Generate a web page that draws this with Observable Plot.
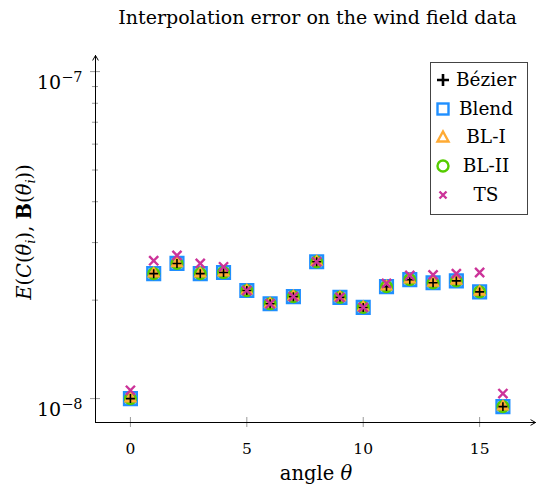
<!DOCTYPE html>
<html><head><meta charset="utf-8">
<script src="https://cdn.jsdelivr.net/npm/d3@7"></script>
<script src="https://cdn.jsdelivr.net/npm/@observablehq/plot@0.6"></script>
<style>
body{margin:0;background:#fff;}
#wrap{position:relative;width:540px;height:486px;font-family:"DejaVu Serif",serif;color:#000;}
#title{position:absolute;left:95px;width:445px;top:5px;text-align:center;font-size:19px;line-height:24px;white-space:nowrap;}
#legend{position:absolute;left:430px;top:62px;width:98px;height:153px;border:1px solid #444;background:#fff;box-sizing:border-box;font-size:18.5px;}
.row{position:absolute;left:0;width:96px;height:28px;}
.row svg{position:absolute;left:3px;top:3px;}
.row span{position:absolute;left:55px;top:0px;line-height:24px;transform:translateX(-50%);white-space:nowrap;}
</style></head><body>
<div id="wrap"><div id="chart"></div><div id="title">Interpolation error on the wind field data</div><div id="legend"></div></div>
<script>
const angles = [0,1,2,3,4,5,6,7,8,9,10,11,12,13,14,15,16];
const bezier = [1.00e-8,2.41e-8,2.59e-8,2.41e-8,2.43e-8,2.14e-8,1.95e-8,2.05e-8,2.62e-8,2.04e-8,1.90e-8,2.20e-8,2.31e-8,2.26e-8,2.29e-8,2.12e-8,0.945e-8];
const blend  = [1.00e-8,2.41e-8,2.59e-8,2.41e-8,2.43e-8,2.14e-8,1.95e-8,2.05e-8,2.62e-8,2.04e-8,1.90e-8,2.20e-8,2.31e-8,2.26e-8,2.29e-8,2.12e-8,0.945e-8];
const bl1    = [1.00e-8,2.41e-8,2.59e-8,2.41e-8,2.43e-8,2.14e-8,1.95e-8,2.05e-8,2.62e-8,2.04e-8,1.90e-8,2.20e-8,2.31e-8,2.26e-8,2.29e-8,2.12e-8,0.945e-8];
const bl2    = [1.00e-8,2.41e-8,2.59e-8,2.41e-8,2.43e-8,2.14e-8,1.95e-8,2.05e-8,2.62e-8,2.04e-8,1.90e-8,2.20e-8,2.31e-8,2.26e-8,2.29e-8,2.12e-8,0.945e-8];
const ts     = [1.06e-8,2.64e-8,2.74e-8,2.59e-8,2.53e-8,2.14e-8,1.95e-8,2.05e-8,2.62e-8,2.04e-8,1.90e-8,2.25e-8,2.38e-8,2.39e-8,2.41e-8,2.43e-8,1.036e-8];
const seriesNames = ["Bézier","Blend","BL-I","BL-II","TS"];
const colors = {"Bézier":"#000000","Blend":"#1f8fff","BL-I":"#ffaa33","BL-II":"#55cc00","TS":"#cc3399"};
const xTicks = [0,5,10,15];
const yMajor = [1e-8,1e-7];
const yMinor = [2e-8,3e-8,4e-8,5e-8,6e-8,7e-8,8e-8,9e-8];
const xDomain = [-1.5,17.4];
const yDomain = [0.845e-8,1.12e-7];

const rows = (vals) => angles.map((a,i)=>({x:a,y:vals[i]}));
const xMin = xDomain[0];
const yMin = yDomain[0];
const majHalf = 0.215, minHalf = 0.13;
const yTickF = Math.pow(10, 5/327);

const plot = Plot.plot({
  width:540, height:486,
  marginLeft:95, marginRight:5, marginTop:55, marginBottom:64,
  x:{domain:xDomain},
  y:{type:"log", domain:yDomain},
  style:{fontFamily:"DejaVu Serif, serif", fontSize:"15px", background:"transparent", overflow:"visible"},
  marks:[
    Plot.ruleY(yMajor,{y:d=>d, x1:()=>xMin-majHalf, x2:()=>xMin+majHalf, stroke:"#999", clip:false}),
    Plot.ruleY(yMinor,{y:d=>d, x1:()=>xMin-minHalf, x2:()=>xMin+minHalf, stroke:"#999", clip:false}),
    Plot.ruleX(xTicks,{x:d=>d, y1:()=>yMin/yTickF, y2:()=>yMin*yTickF, stroke:"#999", clip:false}),
    Plot.axisY({ticks:yMajor, tickSize:0, tickPadding:13, label:null, fontSize:19, tickFormat:d=>String(Math.round(Math.log10(d)))}),
    Plot.axisX({ticks:xTicks, tickSize:0, tickPadding:20, label:null, fontSize:15.5}),
    Plot.arrow([{}],{x1:()=>xDomain[0], x2:()=>xDomain[1], y1:()=>yMin, y2:()=>yMin, stroke:"black", strokeWidth:1, headLength:8, insetEnd:0, insetStart:0}),
    Plot.arrow([{}],{x1:()=>xDomain[0], x2:()=>xDomain[0], y1:()=>yMin, y2:()=>yDomain[1], stroke:"black", strokeWidth:1, headLength:8, insetEnd:0, insetStart:0}),
    Plot.dot(rows(blend),{x:"x", y:"y", symbol:"square", r:7.3, stroke:colors["Blend"], strokeWidth:2.2, fill:colors["Blend"], fillOpacity:0.55}),
    Plot.dot(rows(bl2),{x:"x", y:"y", symbol:"circle", r:5.2, stroke:colors["BL-II"], strokeWidth:2.8, fill:"none"}),
    Plot.dot(rows(bl1),{x:"x", y:"y", symbol:"triangle", r:3.1, stroke:colors["BL-I"], strokeWidth:3, fill:colors["BL-I"]}),
    Plot.dot(rows(bezier),{x:"x", y:"y", symbol:"plus", r:3.0, stroke:colors["Bézier"], strokeWidth:1.6}),
    Plot.dot(rows(ts),{x:"x", y:"y", symbol:"times", r:4.2, stroke:colors["TS"], strokeWidth:2.4})
  ]
});
document.getElementById("chart").appendChild(plot);

// y tick labels as 10^exp
const svg = d3.select(plot);
svg.selectAll('g[aria-label="y-axis tick label"] text').each(function(){
  const t = d3.select(this); const e = t.text().replace("-","−");
  t.text(null);
  t.append("tspan").text("10");
  t.append("tspan").attr("dy","-0.5em").attr("font-size","14.5").text(e);
  t.attr("dy","0.6em");
});
// y label
const yl = svg.append("text").attr("transform","translate(31,232) rotate(-90)").attr("text-anchor","middle")
  .attr("font-family","DejaVu Serif, serif").attr("font-size","19.5");
const parts = [["E","i"],["(",""],["C","i"],["(",""],["θ","i"],["i","sub"],["), ",""],["B","b"],["(",""],["θ","i"],["i","sub"],["))",""]];
parts.forEach(([s,k])=>{
  const ts_ = yl.append("tspan").text(s);
  if(k==="i") ts_.attr("font-style","italic");
  if(k==="b") ts_.attr("font-weight","bold");
  if(k==="sub") { ts_.attr("font-style","italic").attr("font-size","13").attr("baseline-shift","-30%"); }
});
// x label
const xl = svg.append("text").attr("x",316).attr("y",480).attr("text-anchor","middle")
  .attr("font-family","DejaVu Serif, serif").attr("font-size","19.5");
xl.append("tspan").text("angle ");
xl.append("tspan").attr("font-style","italic").text("θ");

// legend
const leg = d3.select("#legend");
const symDraw = {
  "Bézier": g=>g.append("path").attr("d","M-6,0H6M0,-6V6").attr("stroke","#000").attr("stroke-width",2.6),
  "Blend": g=>g.append("rect").attr("x",-5.5).attr("y",-5.5).attr("width",11).attr("height",11).attr("fill","none").attr("stroke",colors["Blend"]).attr("stroke-width",2.4),
  "BL-I": g=>g.append("path").attr("d","M0,-5.5L5.5,4.5H-5.5Z").attr("fill","none").attr("stroke",colors["BL-I"]).attr("stroke-width",2.4),
  "BL-II": g=>g.append("circle").attr("r",5.5).attr("fill","none").attr("stroke",colors["BL-II"]).attr("stroke-width",2.4),
  "TS": g=>g.append("path").attr("d","M-3.5,-3.5L3.5,3.5M-3.5,3.5L3.5,-3.5").attr("stroke",colors["TS"]).attr("stroke-width",2.4)
};
seriesNames.forEach((n,i)=>{
  const r = leg.append("div").attr("class","row").style("top",(5+i*28.7)+"px");
  const s = r.append("svg").attr("width",18).attr("height",18);
  symDraw[n](s.append("g").attr("transform","translate(9,9)"));
  r.append("span").text(n);
});
</script>
</body></html>
